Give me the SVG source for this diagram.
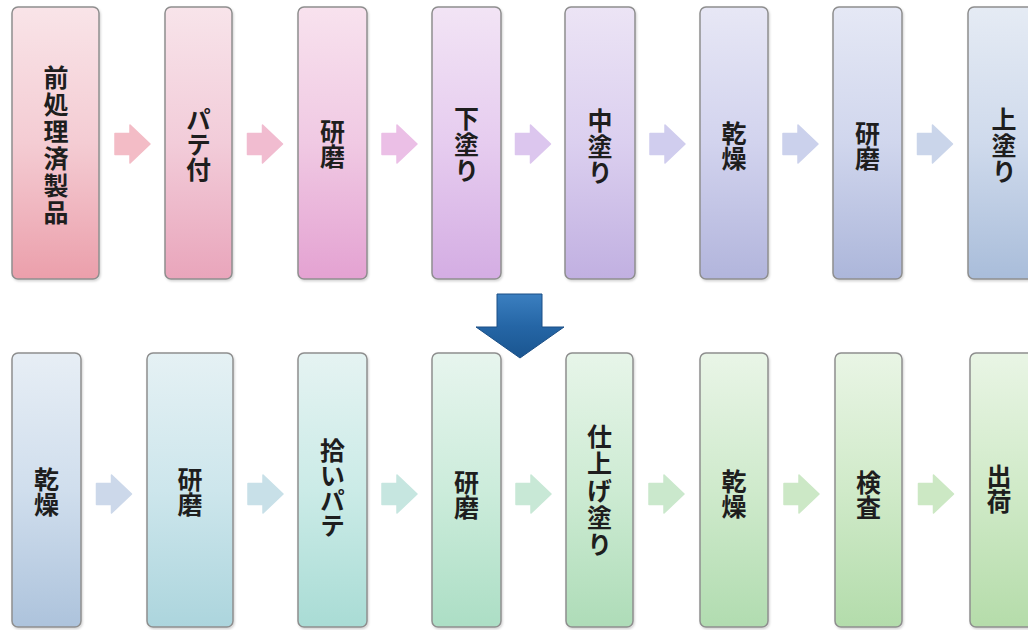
<svg xmlns="http://www.w3.org/2000/svg" width="1028" height="630" viewBox="0 0 1028 630">
<style>
.box{stroke:#8e8e8e;stroke-width:1.5;filter:url(#sh)}
.lbl{font-family:"Noto Sans CJK JP","Noto Sans CJK SC",sans-serif;font-size:25px;font-weight:700;fill:#1e1e1e;text-anchor:middle;writing-mode:vertical-rl;text-orientation:mixed}
.arw{stroke-width:1.5;stroke-linejoin:round}
</style>
<defs>
<filter id="sh" x="-20%" y="-5%" width="140%" height="115%">
<feDropShadow dx="1" dy="1.5" stdDeviation="1.2" flood-color="#000" flood-opacity="0.18"/>
</filter>
<path id="arr" d="M-17.5,-10.5 H-2.5 V-19 L17.5,0 L-2.5,19 V10.5 H-17.5 Z"/>
<linearGradient id="t1" x1="0" y1="0" x2="0" y2="1"><stop offset="0" stop-color="#f9e4e8"/><stop offset="0.5" stop-color="#f4ccd3"/><stop offset="1" stop-color="#eb9fab"/></linearGradient>
<linearGradient id="t2" x1="0" y1="0" x2="0" y2="1"><stop offset="0" stop-color="#f8e4ea"/><stop offset="0.5" stop-color="#f2ccd9"/><stop offset="1" stop-color="#e9a5bb"/></linearGradient>
<linearGradient id="t3" x1="0" y1="0" x2="0" y2="1"><stop offset="0" stop-color="#f8e2ee"/><stop offset="0.5" stop-color="#f0c9e3"/><stop offset="1" stop-color="#e4a2d2"/></linearGradient>
<linearGradient id="t4" x1="0" y1="0" x2="0" y2="1"><stop offset="0" stop-color="#f2e4f5"/><stop offset="0.5" stop-color="#e6ccef"/><stop offset="1" stop-color="#d4ade3"/></linearGradient>
<linearGradient id="t5" x1="0" y1="0" x2="0" y2="1"><stop offset="0" stop-color="#ece4f5"/><stop offset="0.5" stop-color="#dbcfef"/><stop offset="1" stop-color="#c1b0e1"/></linearGradient>
<linearGradient id="t6" x1="0" y1="0" x2="0" y2="1"><stop offset="0" stop-color="#e7e7f5"/><stop offset="0.5" stop-color="#d2d3ee"/><stop offset="1" stop-color="#b2b5dc"/></linearGradient>
<linearGradient id="t7" x1="0" y1="0" x2="0" y2="1"><stop offset="0" stop-color="#e5e8f5"/><stop offset="0.5" stop-color="#d0d6ed"/><stop offset="1" stop-color="#acb6da"/></linearGradient>
<linearGradient id="t8" x1="0" y1="0" x2="0" y2="1"><stop offset="0" stop-color="#e5ebf4"/><stop offset="0.5" stop-color="#cfdaec"/><stop offset="1" stop-color="#a9bdda"/></linearGradient>
<linearGradient id="b1" x1="0" y1="0" x2="0" y2="1"><stop offset="0" stop-color="#e7eef5"/><stop offset="0.5" stop-color="#d0deed"/><stop offset="1" stop-color="#adc3dc"/></linearGradient>
<linearGradient id="b2" x1="0" y1="0" x2="0" y2="1"><stop offset="0" stop-color="#e5f1f4"/><stop offset="0.5" stop-color="#cde6ec"/><stop offset="1" stop-color="#acd5dd"/></linearGradient>
<linearGradient id="b3" x1="0" y1="0" x2="0" y2="1"><stop offset="0" stop-color="#e5f3f2"/><stop offset="0.5" stop-color="#cbebe7"/><stop offset="1" stop-color="#a9dcd5"/></linearGradient>
<linearGradient id="b4" x1="0" y1="0" x2="0" y2="1"><stop offset="0" stop-color="#e7f5ee"/><stop offset="0.5" stop-color="#ccecdb"/><stop offset="1" stop-color="#acdec5"/></linearGradient>
<linearGradient id="b5" x1="0" y1="0" x2="0" y2="1"><stop offset="0" stop-color="#e7f5e9"/><stop offset="0.5" stop-color="#cdebd3"/><stop offset="1" stop-color="#aedcb8"/></linearGradient>
<linearGradient id="b6" x1="0" y1="0" x2="0" y2="1"><stop offset="0" stop-color="#e9f5e7"/><stop offset="0.5" stop-color="#cfeacc"/><stop offset="1" stop-color="#b1dcb0"/></linearGradient>
<linearGradient id="b7" x1="0" y1="0" x2="0" y2="1"><stop offset="0" stop-color="#e9f5e5"/><stop offset="0.5" stop-color="#d0eac9"/><stop offset="1" stop-color="#b3dcab"/></linearGradient>
<linearGradient id="b8" x1="0" y1="0" x2="0" y2="1"><stop offset="0" stop-color="#e9f5e5"/><stop offset="0.5" stop-color="#d0eac8"/><stop offset="1" stop-color="#b5dcaa"/></linearGradient>
<linearGradient id="blue" x1="0" y1="0" x2="0" y2="1"><stop offset="0" stop-color="#3b7fc0"/><stop offset="0.5" stop-color="#2566a6"/><stop offset="1" stop-color="#1a5590"/></linearGradient>
</defs>

<g id="connectors">
<use href="#arr" class="arw" transform="translate(132.5,144)" fill="#f3bcc6" stroke="#f3bcc6"/>
<use href="#arr" class="arw" transform="translate(265,144)" fill="#f1bcd0" stroke="#f1bcd0"/>
<use href="#arr" class="arw" transform="translate(399.5,144)" fill="#ebbfe6" stroke="#ebbfe6"/>
<use href="#arr" class="arw" transform="translate(533,144)" fill="#dcc6ee" stroke="#dcc6ee"/>
<use href="#arr" class="arw" transform="translate(667.5,144)" fill="#d0cdee" stroke="#d0cdee"/>
<use href="#arr" class="arw" transform="translate(800.5,144)" fill="#cbd1ec" stroke="#cbd1ec"/>
<use href="#arr" class="arw" transform="translate(935,144)" fill="#cad5ea" stroke="#cad5ea"/>
<use href="#arr" class="arw" transform="translate(114,494)" fill="#ccd8ea" stroke="#ccd8ea"/>
<use href="#arr" class="arw" transform="translate(265.5,494)" fill="#c8e0e8" stroke="#c8e0e8"/>
<use href="#arr" class="arw" transform="translate(399.5,494)" fill="#c6e6e0" stroke="#c6e6e0"/>
<use href="#arr" class="arw" transform="translate(533.5,494)" fill="#c8e8d6" stroke="#c8e8d6"/>
<use href="#arr" class="arw" transform="translate(666.5,494)" fill="#cae8cc" stroke="#cae8cc"/>
<use href="#arr" class="arw" transform="translate(801.5,494)" fill="#cce8c6" stroke="#cce8c6"/>
<use href="#arr" class="arw" transform="translate(936,494)" fill="#cce8c4" stroke="#cce8c4"/>
<polygon id="down-arrow" points="497,294 542,294 542,327 564,327 520,358 476,327 497,327" fill="url(#blue)" stroke="#1b4f86" stroke-width="1" stroke-linejoin="round"/>
</g>

<g id="n1"><rect class="box" x="12" y="7" width="87" height="272" rx="6" fill="url(#t1)"/>
<text class="lbl" x="56" y="146" letter-spacing="2">前処理済製品</text></g>
<g id="n2"><rect class="box" x="165" y="7" width="67" height="272" rx="6" fill="url(#t2)"/>
<text class="lbl" x="198.5" y="144">パテ付</text></g>
<g id="n3"><rect class="box" x="298" y="7" width="69" height="272" rx="6" fill="url(#t3)"/>
<text class="lbl" x="332.5" y="143.5">研磨</text></g>
<g id="n4"><rect class="box" x="432" y="7" width="69" height="272" rx="6" fill="url(#t4)"/>
<text class="lbl" x="466.5" y="145" letter-spacing="1">下塗り</text></g>
<g id="n5"><rect class="box" x="565" y="7" width="70" height="272" rx="6" fill="url(#t5)"/>
<text class="lbl" x="600" y="147" letter-spacing="1">中塗り</text></g>
<g id="n6"><rect class="box" x="700" y="7" width="68" height="272" rx="6" fill="url(#t6)"/>
<text class="lbl" x="734" y="146">乾燥</text></g>
<g id="n7"><rect class="box" x="833" y="7" width="69" height="272" rx="6" fill="url(#t7)"/>
<text class="lbl" x="867.5" y="146">研磨</text></g>
<g id="n8"><rect class="box" x="968" y="7" width="72" height="272" rx="6" fill="url(#t8)"/>
<text class="lbl" x="1004" y="146" letter-spacing="1">上塗り</text></g>

<g id="n9"><rect class="box" x="12" y="353" width="69" height="274" rx="6" fill="url(#b1)"/>
<text class="lbl" x="46.5" y="492">乾燥</text></g>
<g id="n10"><rect class="box" x="147" y="353" width="86" height="274" rx="6" fill="url(#b2)"/>
<text class="lbl" x="190" y="492">研磨</text></g>
<g id="n11"><rect class="box" x="298" y="353" width="69" height="274" rx="6" fill="url(#b3)"/>
<text class="lbl" x="332.5" y="488">拾いパテ</text></g>
<g id="n12"><rect class="box" x="432" y="353" width="69" height="274" rx="6" fill="url(#b4)"/>
<text class="lbl" x="466.5" y="495">研磨</text></g>
<g id="n13"><rect class="box" x="566" y="353" width="67" height="274" rx="6" fill="url(#b5)"/>
<text class="lbl" x="599.5" y="491" letter-spacing="2">仕上げ塗り</text></g>
<g id="n14"><rect class="box" x="700" y="353" width="68" height="274" rx="6" fill="url(#b6)"/>
<text class="lbl" x="734" y="494">乾燥</text></g>
<g id="n15"><rect class="box" x="835" y="353" width="67" height="274" rx="6" fill="url(#b7)"/>
<text class="lbl" x="868.5" y="495">検査</text></g>
<g id="n16"><rect class="box" x="970" y="353" width="70" height="274" rx="6" fill="url(#b8)"/>
<text class="lbl" x="999" y="489">出荷</text></g>
</svg>
